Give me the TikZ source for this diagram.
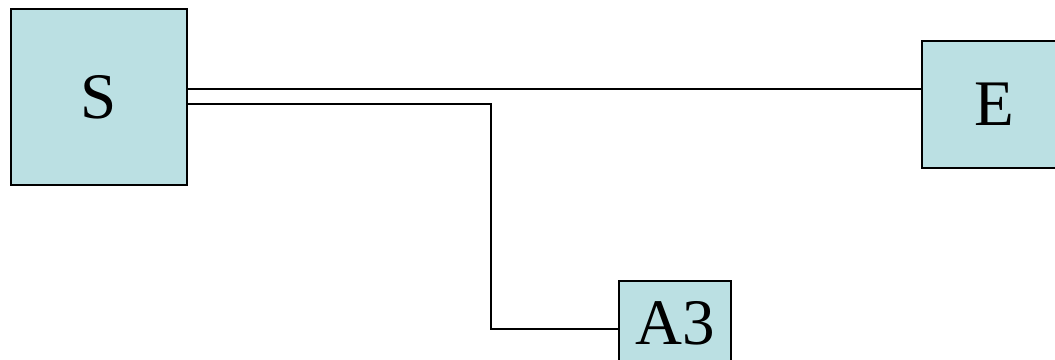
\documentclass[tikz,border=0pt]{standalone}
\usepackage{fontspec}
\setmainfont{Liberation Serif}
\definecolor{boxfill}{HTML}{BBE0E3}
\begin{document}
\begin{tikzpicture}[x=1pt,y=-1pt,
  blk/.style={draw=black,line width=2pt,fill=boxfill,inner sep=0pt,
    font=\fontsize{65}{78}\selectfont},
  wire/.style={draw=black,line width=2pt}]
\useasboundingbox (0,0) rectangle (1055,359);
\clip (0,0) rectangle (1055,359);
\node[blk,minimum width=176pt,minimum height=176pt] (S) at (99,97) {S};
\node[blk,minimum width=144pt,minimum height=127pt] (E) at (994,104.5) {E};
\node[blk,minimum width=112pt,minimum height=84pt] (A3) at (675,323) {A3};
\coordinate (y1) at (0,89);
\coordinate (y2) at (0,104);
\coordinate (bend) at (491,329);
\draw[wire] (S.east |- y1) -- (E.west |- y1);
\draw[wire] (S.east |- y2) -| (bend) -- (A3.west |- bend);
\end{tikzpicture}
\end{document}
